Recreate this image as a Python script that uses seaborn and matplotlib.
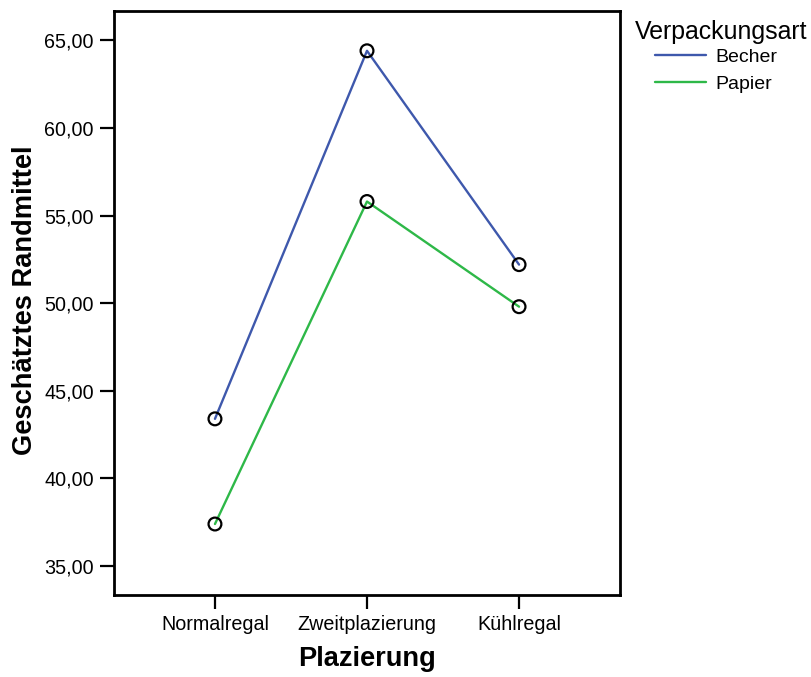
import pandas as pd
import matplotlib
matplotlib.use("Agg")
import matplotlib.pyplot as plt
from matplotlib.ticker import FuncFormatter
from matplotlib.lines import Line2D
import seaborn as sns

# geschätzte Randmittel aus dem Profilplot
plazierung = ["Normalregal", "Zweitplazierung", "Kühlregal"]
becher = [43.4, 64.4, 52.2]
papier = [37.4, 55.8, 49.8]
gruppen = ["Becher", "Papier"]
farben = ["#3E58AC", "#2EB848"]
y_ticks = [35, 40, 45, 50, 55, 60, 65]

df = pd.DataFrame({
    "Plazierung": plazierung * 2,
    "Randmittel": becher + papier,
    "Verpackungsart": [gruppen[0]] * 3 + [gruppen[1]] * 3,
})
df["x"] = df["Plazierung"].map({p: i for i, p in enumerate(plazierung)})

sns.set_style("white")
plt.rcParams["font.family"] = ["Liberation Sans", "DejaVu Sans"]
plt.rcParams.update({"text.color": "black", "axes.labelcolor": "black",
                     "xtick.color": "black", "ytick.color": "black"})

fig = plt.figure(figsize=(8.12, 6.77), dpi=100)
ax = fig.add_axes([114 / 812, 82 / 677, 506 / 812, 584 / 677])

sns.lineplot(data=df, x="x", y="Randmittel", hue="Verpackungsart",
             palette=farben, linewidth=1.7, legend=False, ax=ax, zorder=2)
sns.scatterplot(data=df, x="x", y="Randmittel", marker="o", s=85,
                facecolor="none", edgecolor="black", linewidth=1.6,
                legend=False, ax=ax, zorder=3)

ax.set_xlim(-0.664, 2.664)
ax.set_ylim(33.35, 66.67)
ax.set_xticks(range(len(plazierung)))
ax.set_xticklabels(plazierung)
ax.set_yticks(y_ticks)
ax.yaxis.set_major_formatter(FuncFormatter(lambda v, p: f"{v:.2f}".replace(".", ",")))

for s in ax.spines.values():
    s.set_visible(True)
    s.set_color("black")
    s.set_linewidth(2)
ax.tick_params(axis="both", direction="out", length=10, width=1.6,
               color="black", labelcolor="black", labelsize=14.2, pad=4.5,
               left=True, bottom=True)

ax.set_xlabel("Plazierung", fontsize=19.6, fontweight="bold")
ax.set_ylabel("Geschätztes Randmittel", fontsize=19.6, fontweight="bold")
ax.xaxis.set_label_coords(0.5, -0.087)
ax.yaxis.set_label_coords(-0.150, 0.505)

fig.text(635 / 812, 1 - 32 / 677, "Verpackungsart", fontsize=17.9,
         ha="left", va="center")
handles = [Line2D([], [], color=c, linewidth=1.7) for c in farben]
fig.legend(handles, gruppen, loc="upper left",
           bbox_to_anchor=(655 / 812, 1 - 48 / 677), frameon=False,
           fontsize=14, handlelength=2.6, handletextpad=0.5,
           labelspacing=0.5, borderpad=0, borderaxespad=0)

fig.savefig("out.png", dpi=100)
